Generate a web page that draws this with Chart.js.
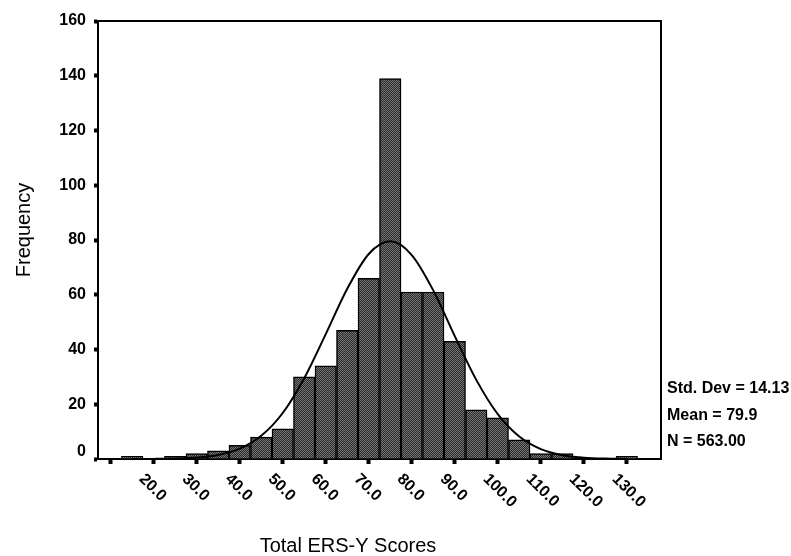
<!DOCTYPE html>
<html><head><meta charset="utf-8">
<script src="https://cdn.jsdelivr.net/npm/chart.js@4.4.0/dist/chart.umd.min.js"></script>
<style>html,body{margin:0;padding:0;background:#fff;overflow:hidden}#wrap{width:791px;height:556px;position:relative}</style>
</head><body><div id="wrap"><canvas id="c" width="791" height="556"></canvas></div>
<script>
// ---- data ----
const binCenters = [20,25,30,35,40,45,50,55,60,65,70,75,80,85,90,95,100,105,110,115,120,125,130,135];
const frequencies = [1,0,1,2,3,5,8,11,30,34,47,66,139,61,61,43,18,15,7,2,2,0,0,1];
const curveX = [20,25,30,35,40,45,50,55,60,65,70,75,80,85,90,95,100,105,110,115,120,125,130,135];
const curveY = [0.01,0.04,0.16,0.51,1.48,3.77,8.47,16.8,29.5,45.6,62.2,74.9,79.5,74.5,61.6,44.9,28.9,16.4,8.2,3.6,1.4,0.5,0.15,0.04];
const xTickValues = [20,30,40,50,60,70,80,90,100,110,120,130];
const xTickLabels = ['20.0','30.0','40.0','50.0','60.0','70.0','80.0','90.0','100.0','110.0','120.0','130.0'];
const yTickValues = [0,20,40,60,80,100,120,140,160];
const statsLines = ['Std. Dev = 14.13','Mean = 79.9','N = 563.00'];
const xTitle = 'Total ERS-Y Scores';
const yTitle = 'Frequency';

const FONT = '"Liberation Sans", Arial, Helvetica, sans-serif';
const canvas = document.getElementById('c');
const ctx = canvas.getContext('2d');

function makePattern(){
  const p = document.createElement('canvas'); p.width = 2; p.height = 2;
  const g = p.getContext('2d');
  g.fillStyle = '#2a2a2a'; g.fillRect(0,0,2,2);
  g.fillStyle = '#767676'; g.fillRect(0,0,1,1); g.fillRect(1,1,1,1);
  return ctx.createPattern(p,'repeat');
}

const decor = {
  id:'decor',
  afterDraw(chart){
    const c = chart.ctx, a = chart.chartArea, xs = chart.scales.x, ys = chart.scales.y;
    c.save();
    // top and right frame
    c.strokeStyle = '#000'; c.lineWidth = 2;
    c.beginPath(); c.moveTo(a.left, a.top); c.lineTo(a.right, a.top); c.lineTo(a.right, a.bottom + 1); c.stroke();
    c.fillStyle = '#000';
    // y tick labels (the zero label sits slightly above the baseline, as in the reference)
    c.font = 'bold 16px ' + FONT; c.textAlign = 'right'; c.textBaseline = 'middle';
    yTickValues.forEach(v=>{
      let py = ys.getPixelForValue(v);
      if (v === 0) py -= 7;
      c.fillText(String(v), a.left - 12, py);
    });
    // rotated x tick labels
    c.textAlign = 'left'; c.textBaseline = 'top';
    xTickValues.forEach((v,i)=>{
      const px = xs.getPixelForValue(v);
      c.save();
      c.translate(px + 15, a.bottom + 12);
      c.rotate(Math.PI/4);
      c.fillText(xTickLabels[i], 0, 0);
      c.restore();
    });
    // stats
    c.font = 'bold 16px ' + FONT; c.textBaseline = 'middle'; c.textAlign = 'left';
    statsLines.forEach((t,i)=>{ c.fillText(t, a.right + 6, 389 + i*26.5); });
    // axis titles
    c.font = '20px ' + FONT; c.textAlign = 'center'; c.textBaseline = 'middle';
    c.fillText(xTitle, 348, 546);
    c.save(); c.translate(24, 230); c.rotate(-Math.PI/2); c.fillText(yTitle, 0, 0); c.restore();
    c.restore();
  }
};

new Chart(ctx, {
  data:{
    datasets:[
      {type:'line', data: curveX.map((x,i)=>({x:x, y:curveY[i]})), borderColor:'#000', borderWidth:2,
       pointRadius:0, fill:false, cubicInterpolationMode:'monotone', order:1},
      {type:'bar', data: binCenters.map((x,i)=>({x:x, y:frequencies[i]})), backgroundColor: makePattern(),
       borderColor:'#000', borderWidth:1.5, borderSkipped:'start', barPercentage:1, categoryPercentage:1, order:2}
    ]
  },
  options:{
    responsive:false, animation:false, devicePixelRatio:1,
    layout:{padding:{left:0, top:21, right:130, bottom:0}},
    plugins:{legend:{display:false}, tooltip:{enabled:false}},
    scales:{
      x:{type:'linear', min:17.5, max:137.5,
         afterFit(s){ s.height = 97; },
         afterBuildTicks(s){ s.ticks = xTickValues.map(v=>({value:v})); },
         ticks:{display:false},
         grid:{drawOnChartArea:false, drawTicks:true, tickLength:5, tickWidth:4, color:'#000'},
         border:{display:true, color:'#000', width:2}},
      y:{type:'linear', min:0, max:160,
         afterFit(s){ s.width = 98; },
         afterBuildTicks(s){ s.ticks = yTickValues.map(v=>({value:v})); },
         ticks:{display:false},
         grid:{drawOnChartArea:false, drawTicks:true, tickLength:4, tickWidth:4, color:'#000'},
         border:{display:true, color:'#000', width:2}}
    }
  },
  plugins:[decor]
});
</script></body></html>
